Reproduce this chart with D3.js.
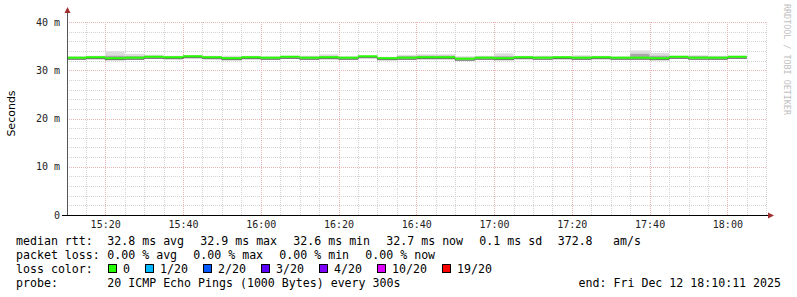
<!DOCTYPE html>
<html>
<head>
<meta charset="utf-8">
<script src="https://cdn.jsdelivr.net/npm/d3@7"></script>
<style>
  body { margin: 0; background: #fff; }
  svg text { font-family: "DejaVu Sans Mono", monospace; }
</style>
</head>
<body>
<svg id="chart" width="797" height="297"></svg>
<script>
// 5 minute bins, labelled by their end time (UTC, Dec 12 2025)
var binEnds = ["15:15","15:20","15:25","15:30","15:35","15:40","15:45","15:50","15:55","16:00",
               "16:05","16:10","16:15","16:20","16:25","16:30","16:35","16:40","16:45","16:50",
               "16:55","17:00","17:05","17:10","17:15","17:20","17:25","17:30","17:35","17:40",
               "17:45","17:50","17:55","18:00","18:05"];
// median rtt (ms)
var median = [32.6,32.7,32.5,32.6,32.8,32.7,32.9,32.7,32.5,32.7,
              32.6,32.8,32.6,32.7,32.6,32.9,32.5,32.6,32.7,32.7,
              32.4,32.6,32.5,32.7,32.6,32.7,32.6,32.7,32.6,32.6,
              32.5,32.8,32.6,32.6,32.8];
// smoke: min / max of the 20 pings (ms)
var smokeMin = [32.3,32.4,32.2,32.3,32.5,32.4,32.6,32.5,32.3,32.4,
                32.3,32.4,32.3,32.4,32.3,32.7,32.3,32.3,32.3,32.4,
                32.2,32.3,32.3,32.4,32.4,32.3,32.2,32.4,32.3,32.3,
                32.3,32.5,32.4,32.3,32.5];
var smokeMax = [32.9,33.0,33.9,33.4,33.2,33.0,33.1,33.0,33.0,33.0,
                32.9,33.0,33.0,33.3,32.9,33.0,32.8,33.2,33.3,33.3,
                32.9,33.0,33.5,33.0,33.0,32.9,33.1,33.0,32.9,34.1,
                33.6,33.0,33.1,33.0,33.0];
// dense core of the smoke (ms)
var coreLo = [32.4,32.5,32.3,32.4,32.6,32.5,32.7,32.6,32.4,32.5,
              32.4,32.6,32.4,32.5,32.4,32.8,32.4,32.4,32.5,32.5,
              32.3,32.4,32.4,32.5,32.5,32.4,32.4,32.5,32.4,32.4,
              32.4,32.6,32.5,32.4,32.6];
var coreHi = [32.7,32.8,33.0,32.9,32.9,32.8,33.0,32.8,32.7,32.8,
              32.7,32.9,32.8,32.9,32.7,32.9,32.6,32.9,33.0,33.0,
              32.6,32.8,32.9,32.8,32.8,32.8,32.8,32.8,32.7,33.4,
              33.0,32.9,32.9,32.8,32.9];

var yTicks = [0, 10, 20, 30, 40];
var lossLabels = ["0","1/20","2/20","3/20","4/20","10/20","19/20"];
var lossColors = ["#26ff00","#00b8ff","#0059ff","#5e00ff","#7e00ff","#dd00ff","#ff0000"];

var svg = d3.select("#chart");

var t0 = new Date(Date.UTC(2025,11,12,15,10,11));
var t1 = new Date(Date.UTC(2025,11,12,18,10,11));
var parseEnd = function(s){
  var p = s.split(":");
  return new Date(Date.UTC(2025,11,12,+p[0],+p[1],0));
};

var x = d3.scaleUtc().domain([t0,t1]).range([67,767]);
var y = d3.scaleLinear().domain([0,40]).range([215,22]);

//grid
var grid = svg.append("g");
grid.selectAll(".hmin")
  .data(d3.range(0,41,2).filter(function(v){ return v % 10 !== 0; }))
  .enter().append("line")
    .attr("x1",67).attr("x2",767)
    .attr("y1",function(d){ return Math.round(y(d))+0.5; })
    .attr("y2",function(d){ return Math.round(y(d))+0.5; })
    .attr("stroke","#d2d2d2").attr("stroke-dasharray","1,1");
grid.selectAll(".vmin")
  .data(d3.utcMinute.every(5).range(t0,t1))
  .enter().append("line")
    .attr("x1",function(d){ return Math.round(x(d))+0.5; })
    .attr("x2",function(d){ return Math.round(x(d))+0.5; })
    .attr("y1",22).attr("y2",215)
    .attr("stroke","#d2d2d2").attr("stroke-dasharray","1,1");
grid.selectAll(".hmaj")
  .data(yTicks.slice(1))
  .enter().append("line")
    .attr("x1",67).attr("x2",767)
    .attr("y1",function(d){ return Math.round(y(d))+0.5; })
    .attr("y2",function(d){ return Math.round(y(d))+0.5; })
    .attr("stroke","#ecb4b4").attr("stroke-dasharray","1,1");
var majTimes = d3.utcMinute.every(20).range(t0,t1);
grid.selectAll(".vmaj")
  .data(majTimes)
  .enter().append("line")
    .attr("x1",function(d){ return Math.round(x(d))+0.5; })
    .attr("x2",function(d){ return Math.round(x(d))+0.5; })
    .attr("y1",22).attr("y2",215)
    .attr("stroke","#ecb4b4").attr("stroke-dasharray","1,1");

//bins
var bins = binEnds.map(function(s,i){
  var e = parseEnd(s);
  var b = new Date(e.getTime() - 300000);
  if (b < t0) b = t0;
  return {x0: x(b), x1: x(e), med: median[i], lo: smokeMin[i], hi: smokeMax[i], clo: coreLo[i], chi: coreHi[i]};
});

var plot = svg.append("g");
plot.selectAll(".smoke").data(bins).enter().append("rect")
  .attr("x",function(d){ return d.x0; })
  .attr("width",function(d){ return d.x1-d.x0; })
  .attr("y",function(d){ return y(d.hi); })
  .attr("height",function(d){ return y(d.lo)-y(d.hi); })
  .attr("fill","#dcdcdc");
plot.selectAll(".core").data(bins).enter().append("rect")
  .attr("x",function(d){ return d.x0; })
  .attr("width",function(d){ return d.x1-d.x0; })
  .attr("y",function(d){ return y(d.chi); })
  .attr("height",function(d){ return y(d.clo)-y(d.chi); })
  .attr("fill","#a8a8a8");

var stepLine = d3.line().x(function(d){ return d[0]; }).y(function(d){ return d[1]; });
var pts = [];
bins.forEach(function(d){ pts.push([d.x0, y(d.med)]); pts.push([d.x1, y(d.med)]); });
plot.append("path")
  .attr("d", stepLine(pts))
  .attr("fill","none").attr("stroke","#555").attr("stroke-width",1)
  .attr("transform","translate(0,1.5)");
plot.selectAll(".med").data(bins).enter().append("line")
  .attr("x1",function(d){ return d.x0; })
  .attr("x2",function(d){ return d.x1; })
  .attr("y1",function(d){ return y(d.med); })
  .attr("y2",function(d){ return y(d.med); })
  .attr("stroke",lossColors[0]).attr("stroke-width",2);

//axes
svg.append("line").attr("x1",67.5).attr("x2",67.5).attr("y1",12).attr("y2",215)
  .attr("stroke","#555");
svg.append("path").attr("d","M64.5,13 L67.5,7 L70.5,13 Z").attr("fill","#a03030");
svg.append("line").attr("x1",62).attr("x2",770).attr("y1",215.5).attr("y2",215.5)
  .attr("stroke","#000");
svg.append("path").attr("d","M768,212.5 L774,215.5 L768,218.5 Z").attr("fill","#a03030");

svg.selectAll(".ylab").data(yTicks).enter().append("text")
  .attr("x",60).attr("y",function(d){ return y(d)+3.5; })
  .attr("text-anchor","end").attr("font-size","10px").attr("fill","#222")
  .text(function(d){ return d === 0 ? "0" : d + " m"; });

svg.selectAll(".xlab").data(majTimes).enter().append("text")
  .attr("x",function(d){ return x(d)+0.5; }).attr("y",228)
  .attr("text-anchor","middle").attr("font-size","10px").attr("fill","#222")
  .text(d3.utcFormat("%H:%M"));

svg.append("text").attr("transform","translate(14.5,113.5) rotate(-90)")
  .attr("text-anchor","middle").attr("font-size","11px")
  .style("font-family","'DejaVu Sans', sans-serif").text("Seconds");

svg.append("text").attr("transform","translate(783.5,4) rotate(90)")
  .attr("font-size","8.4px").attr("fill","#c0c0c0")
  .text("RRDTOOL / TOBI OETIKER");

//legend
var fs = "11.6px";
function put(txt, xx, yy, anchor){
  svg.append("text").attr("x",xx).attr("y",yy).attr("font-size",fs)
    .attr("text-anchor",anchor || "start").attr("xml:space","preserve").text(txt);
}
put("median rtt:",16,245);
put("32.8 ms avg",107.3,245);
put("32.9 ms max",200.3,245);
put("32.6 ms min",293.3,245);
put("32.7 ms now",386.3,245);
put("0.1 ms sd",479.3,245);
put("372.8",557.7,245);
put("am/s",613,245);

put("packet loss:",16,259);
put("0.00 % avg",107.3,259);
put("0.00 % max",193.3,259);
put("0.00 % min",279.3,259);
put("0.00 % now",365.3,259);

put("loss color:",16,273);
var lx = 108.5;
lossLabels.forEach(function(l,i){
  svg.append("rect").attr("x",lx).attr("y",264.5).attr("width",8).attr("height",8)
    .attr("fill",lossColors[i]).attr("stroke","#000");
  put(l, lx+14.5, 273);
  lx += 30 + l.length*7;
});

put("probe:",16,287);
put("20 ICMP Echo Pings (1000 Bytes) every 300s",107.3,287);
put("end: Fri Dec 12 18:10:11 2025",781,287,"end");
</script>
</body>
</html>
